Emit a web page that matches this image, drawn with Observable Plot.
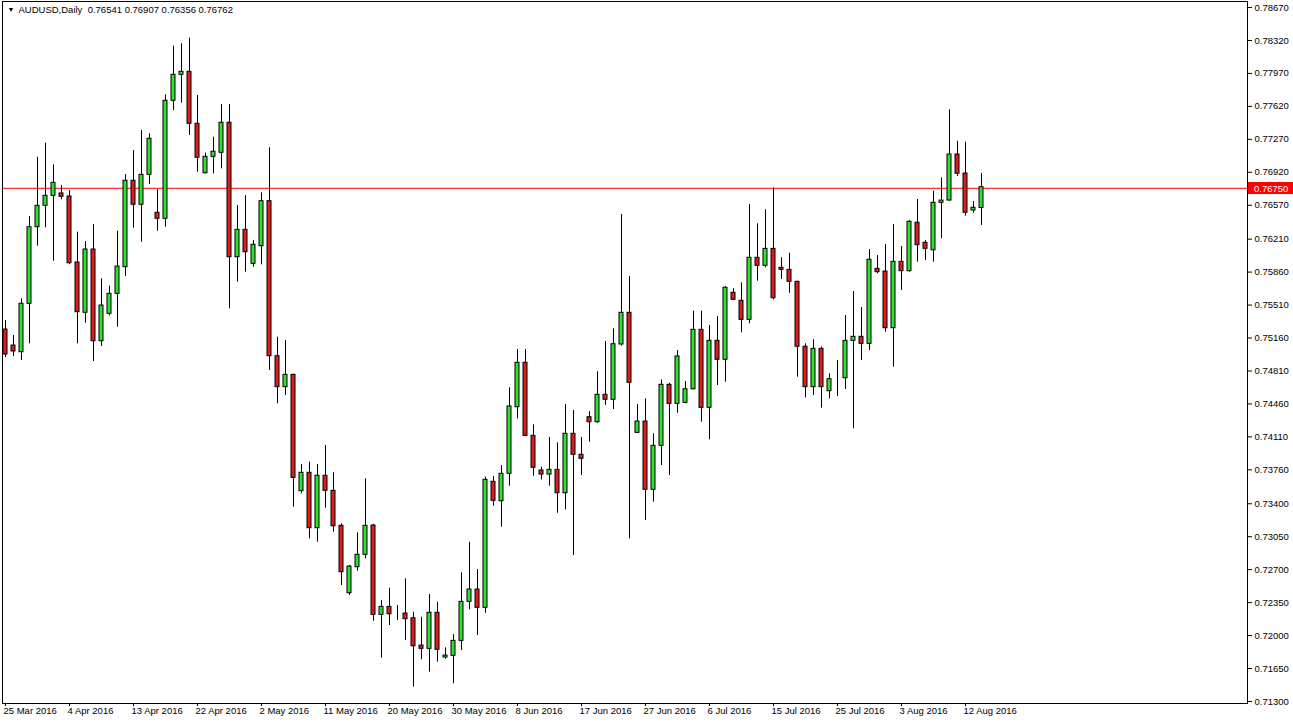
<!DOCTYPE html>
<html><head><meta charset="utf-8">
<script src="https://cdn.jsdelivr.net/npm/d3@7"></script>
<script src="https://cdn.jsdelivr.net/npm/@observablehq/plot@0.6"></script>
<style>html,body{margin:0;padding:0;background:#fff;overflow:hidden}</style>
</head><body><div id="chart"></div>
<script>
const opens = [0.75250,0.75080,0.75009,0.75523,0.76337,0.76564,0.76670,0.76695,0.76663,0.75962,
0.75428,0.76100,0.75126,0.75417,0.75629,0.75912,0.76830,0.76575,0.76893,0.76490,
0.76426,0.77679,0.77955,0.77987,0.77435,0.76910,0.77084,0.77127,0.77446,0.76018,
0.76309,0.75948,0.76135,0.76613,0.74967,0.74638,0.74769,0.73533,0.73729,0.73140,
0.73697,0.73537,0.73166,0.72450,0.72726,0.72858,0.73169,0.72220,0.72305,0.72230,
0.72234,0.72184,0.71894,0.71859,0.72242,0.71767,0.71785,0.71944,0.72358,0.72489,
0.72295,0.73633,0.73427,0.73718,0.74425,0.74897,0.74121,0.73753,0.73710,0.73760,
0.73512,0.74143,0.73920,0.74319,0.74266,0.74557,0.74504,0.75091,0.75428,0.74153,
0.74273,0.73548,0.74015,0.74663,0.74461,0.74472,0.74616,0.75247,0.74419,0.75130,
0.74929,0.75640,0.75555,0.75353,0.76012,0.75927,0.76107,0.75906,0.75884,0.75757,
0.75067,0.74638,0.75045,0.74595,0.74730,0.74733,0.75130,0.75173,0.75098,0.75895,
0.75866,0.75264,0.75969,0.75870,0.76384,0.76171,0.76092,0.76596,0.76620,0.77109,
0.76907,0.76514,0.76541];
const highs = [0.75346,0.75187,0.75576,0.76450,0.77080,0.77229,0.76999,0.76780,0.76727,0.76284,
0.76185,0.76365,0.75789,0.75710,0.76294,0.76896,0.77151,0.77364,0.77329,0.76734,
0.77743,0.78259,0.78285,0.78344,0.77735,0.77123,0.77293,0.77640,0.77640,0.76567,
0.76673,0.76196,0.76702,0.77180,0.75169,0.75134,0.74775,0.73817,0.73841,0.73817,
0.74018,0.73729,0.73187,0.72744,0.73091,0.73665,0.73180,0.72372,0.72503,0.72319,
0.72603,0.72248,0.72195,0.72436,0.72354,0.71870,0.72011,0.72667,0.72991,0.72702,
0.73682,0.73689,0.73806,0.74631,0.75038,0.75038,0.74238,0.73788,0.74103,0.74047,
0.74454,0.74390,0.74103,0.74380,0.74801,0.75123,0.75258,0.76472,0.75813,0.74454,
0.74514,0.74143,0.74716,0.74680,0.75027,0.74698,0.75445,0.75445,0.75293,0.75388,
0.75707,0.75683,0.75746,0.76578,0.76373,0.76522,0.76755,0.76012,0.76061,0.75763,
0.75098,0.75141,0.75062,0.74780,0.74921,0.75399,0.75654,0.75484,0.76100,0.76036,
0.76153,0.76365,0.76132,0.76408,0.76631,0.76196,0.76719,0.76861,0.77584,0.77250,
0.77239,0.76610,0.76907];
const lows = [0.74953,0.74964,0.74921,0.75098,0.76135,0.76330,0.75976,0.76628,0.75941,0.75098,
0.75317,0.74911,0.75070,0.75396,0.75275,0.75813,0.76326,0.76177,0.76790,0.76294,
0.76337,0.77576,0.77654,0.77311,0.76921,0.76904,0.76904,0.76957,0.75470,0.75753,
0.75859,0.75912,0.75937,0.74815,0.74461,0.74549,0.73363,0.73506,0.73028,0.72991,
0.73353,0.73098,0.72532,0.72425,0.72683,0.72815,0.72153,0.71760,0.72107,0.72160,
0.71947,0.71452,0.71743,0.71611,0.71717,0.71749,0.71488,0.71841,0.72274,0.72001,
0.72237,0.73374,0.73151,0.73586,0.74302,0.74115,0.73692,0.73654,0.73586,0.73299,
0.73336,0.72850,0.73700,0.74053,0.74255,0.74443,0.74401,0.75073,0.73028,0.74145,
0.73222,0.73416,0.73806,0.73700,0.74361,0.74461,0.74610,0.74266,0.74079,0.74656,
0.74691,0.75558,0.75215,0.75311,0.75763,0.75906,0.75566,0.75781,0.75636,0.74744,
0.74525,0.74549,0.74415,0.74514,0.74539,0.74613,0.74196,0.74921,0.75027,0.75842,
0.75222,0.74850,0.75665,0.75859,0.75965,0.75983,0.75965,0.76214,0.76612,0.76875,
0.76454,0.76485,0.76356];
const closes = [0.74985,0.75017,0.75523,0.76337,0.76564,0.76670,0.76808,0.76660,0.75954,0.75434,
0.76100,0.75126,0.75505,0.75629,0.75919,0.76830,0.76575,0.76893,0.77276,0.76426,
0.77679,0.77955,0.77987,0.77435,0.77074,0.77084,0.77138,0.77446,0.76018,0.76309,
0.76071,0.76150,0.76613,0.74967,0.74638,0.74769,0.73675,0.73729,0.73140,0.73697,
0.73537,0.73161,0.72673,0.72733,0.72858,0.73166,0.72220,0.72305,0.72227,0.72230,
0.72174,0.71887,0.71859,0.72242,0.71849,0.71788,0.71944,0.72358,0.72489,0.72295,
0.73654,0.73431,0.73718,0.74433,0.74897,0.74121,0.73782,0.73710,0.73760,0.73512,
0.74143,0.73920,0.73877,0.74266,0.74557,0.74504,0.75094,0.75428,0.74684,0.74273,
0.73548,0.74015,0.74663,0.74461,0.74964,0.74616,0.75247,0.74419,0.75130,0.74929,
0.75693,0.75566,0.75353,0.76012,0.75927,0.76107,0.75583,0.75884,0.75757,0.75067,
0.74638,0.75045,0.74638,0.74723,0.74730,0.75130,0.75173,0.75098,0.75991,0.75859,
0.75264,0.75969,0.75870,0.76394,0.76146,0.76107,0.76596,0.76620,0.77109,0.76904,
0.76490,0.76543,0.76762];

const dateLabels = ["25 Mar 2016","4 Apr 2016","13 Apr 2016","22 Apr 2016","2 May 2016","11 May 2016",
"20 May 2016","30 May 2016","8 Jun 2016","17 Jun 2016","27 Jun 2016","6 Jul 2016","15 Jul 2016",
"25 Jul 2016","3 Aug 2016","12 Aug 2016"];
const dateLabelBar = [0,8,16,24,32,40,48,56,64,72,80,88,96,104,112,120];
const priceTicks = [0.78670,0.78320,0.77970,0.77620,0.77270,0.76920,0.76570,0.76210,0.75860,0.75510,
0.75160,0.74810,0.74460,0.74110,0.73760,0.73400,0.73050,0.72700,0.72350,0.72000,0.71650,0.71300];
const bidPrice = 0.76750;
const symbol = "AUDUSD,Daily";
const lastBar = "0.76541 0.76907 0.76356 0.76762";

const bull = "#2ee02e", bear = "#e01b1b";
const bars = opens.map((o, i) => ({i, o, h: highs[i], l: lows[i], c: closes[i]}));
const fillOf = d => d.c > d.o ? bull : d.c < d.o ? bear : "#000";
const fmt = d3.format(".5f");
const labelOf = b => dateLabels[dateLabelBar.indexOf(b)];
const FONT = "'Liberation Sans', Arial, sans-serif";

const chart = Plot.plot({
  width: 1293, height: 726,
  marginLeft: 2, marginTop: 1, marginRight: 46, marginBottom: 23,
  style: {fontFamily: FONT, fontSize: "9.5px", color: "#000", background: "#fff"},
  x: {type: "linear", domain: [0, 155], range: [5, 5 + 8 * 155], axis: null, label: null},
  y: {type: "linear", domain: [0.71300, 0.78670], range: [701, 7], axis: null, label: null},
  marks: [
    Plot.ruleY([bidPrice], {stroke: "#ff0000", strokeWidth: 1}),
    Plot.ruleX(bars, {x: "i", y1: "l", y2: "h", stroke: "#000", strokeWidth: 1, clip: true}),
    Plot.rect(bars, {x1: d => d.i - 0.25, x2: d => d.i + 0.25, y1: "o", y2: "c",
      fill: fillOf, stroke: "#000", strokeWidth: 1, clip: true}),
    Plot.frame({stroke: "#000"}),
    Plot.axisY(priceTicks, {anchor: "right", tickSize: 4, tickPadding: 3, tickFormat: fmt, label: null}),
    Plot.axisX(dateLabelBar, {anchor: "bottom", tickSize: 3, tickFormat: () => "", label: null}),
    Plot.text(dateLabelBar, {x: d => d, text: labelOf, frameAnchor: "bottom", textAnchor: "start",
      lineAnchor: "top", dy: 4, dx: -2, fontSize: 9.5, fill: "#000"}),
    Plot.text(["\u25BC"], {frameAnchor: "top-left", dx: 5, dy: 6, fontSize: 7, fill: "#000"}),
    Plot.text([symbol + "  " + lastBar], {frameAnchor: "top-left", dx: 16, dy: 5, fontSize: 9.5, fill: "#000"})
  ]
});
document.getElementById("chart").appendChild(chart);

// bid price label on the price axis, positioned by the plot's own y scale
const yb = chart.scale("y").apply(bidPrice);
const svg = d3.select(chart);
svg.append("rect").attr("x", 1248).attr("y", Math.round(yb) - 6).attr("width", 45).attr("height", 12).attr("fill", "#ff0000");
svg.append("text").attr("x", 1254).attr("y", Math.round(yb) + 3.5).attr("fill", "#fff")
  .attr("text-anchor", "start").attr("font-size", "9.5px").attr("font-family", FONT).text(fmt(bidPrice));
</script>
</body></html>
